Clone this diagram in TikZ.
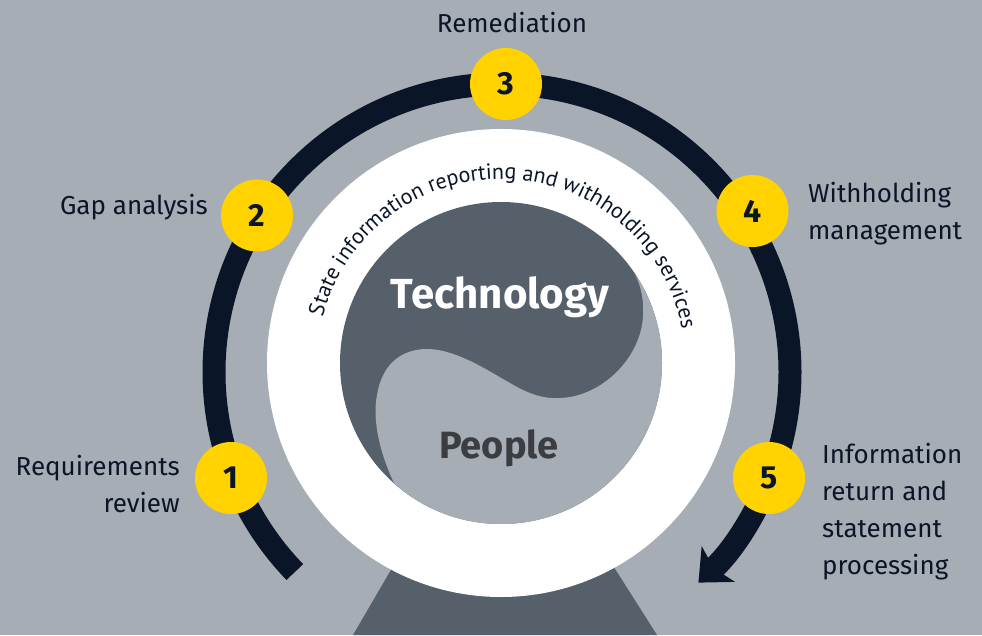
\documentclass[tikz,border=0pt]{standalone}
\usepackage{fontspec}
\setmainfont{Fira Sans}
\newfontfamily\ringfamily{PT Sans}
\usetikzlibrary{arrows.meta,decorations.text}

\definecolor{bggray}{HTML}{A6ADB4}
\definecolor{navy}{HTML}{0A1628}
\definecolor{eyyellow}{HTML}{FFD200}
\definecolor{slate}{HTML}{56606B}
\definecolor{peoplegray}{HTML}{3C3D41}

\newcommand\ringfont{\ringfamily\fontsize{22}{22}\selectfont\color{navy}}

\tikzset{
  num/.style={circle, fill=eyyellow, minimum size=72pt, inner sep=0pt,
    text=navy, font=\fontsize{32}{32}\selectfont\bfseries},
  lbl/.style={text=navy, inner sep=0pt, font=\fontsize{26}{37}\selectfont},
}

\begin{document}
\begin{tikzpicture}[x=1pt,y=1pt]
        \fill[bggray] (0,0) rectangle (982,635);
        \useasboundingbox (0,0) rectangle (982,635);

        % stand below the ring
        \fill[slate] (353,0) -- (420,115) -- (584,115) -- (657,0) -- cycle;

        % white ring, inner disk
        \fill[white] (501,272) circle[radius=234];
        \fill[slate] (501,272) circle[radius=161];
        \begin{scope}
          \clip (501,272) circle[radius=161];
          \fill[bggray] (396,148) .. controls (380,180) and (372,215) .. (377,240)
            .. controls (382,270) and (400,285) .. (425,286)
            .. controls (455,287) and (490,263) .. (510,252)
            .. controls (530,240) and (545,236) .. (560,237)
            .. controls (600,238) and (640,275) .. (643,318)
            .. controls (645,345) and (635,367) .. (620,381)
            -- (640,405) -- (700,405) -- (700,75) -- (300,75) -- (300,135) -- cycle;
        \end{scope}

        \path[decorate, decoration={text along path, text align=center,
            text={|\ringfont|State information reporting and withholding services}}]
          (501,272) ++(176:184) arc[start angle=176, end angle=0, radius=184];

        \node[text=white, font=\fontsize{42}{42}\selectfont\bfseries, anchor=base] (tech) at (500,326) {Technology};
        \node[text=peoplegray, font=\fontsize{38}{38}\selectfont\bfseries, anchor=base] (people) at (499,177) {People};

        % the cycle
        \draw[navy, line width=23pt, -{Stealth[length=27pt,width=48pt,inset=6pt]}]
          (502,263) ++(224:288) arc[start angle=224, end angle=-47, radius=288];

        \node[num] (s1) at (231,157) {1};
        \node[num] (s2) at (257,419.5) {2};
        \node[num] (s3) at (506,551) {3};
        \node[num] (s4) at (752.5,424) {4};
        \node[num] (s5) at (769,157) {5};

        \node[lbl, anchor=base east, align=right] (l1) at (180,123) {Requirements\\review};
        \node[lbl, anchor=base east] (l2) at (208,420) {Gap analysis};
        \node[lbl, anchor=base] (l3) at (512,602) {Remediation};
        \node[lbl, anchor=base west, align=left] (l4) at (808,395) {Withholding\\management};
        \node[lbl, anchor=base west, align=left] (l5) at (822,61) {Information\\return and\\statement\\processing};
\end{tikzpicture}
\end{document}
